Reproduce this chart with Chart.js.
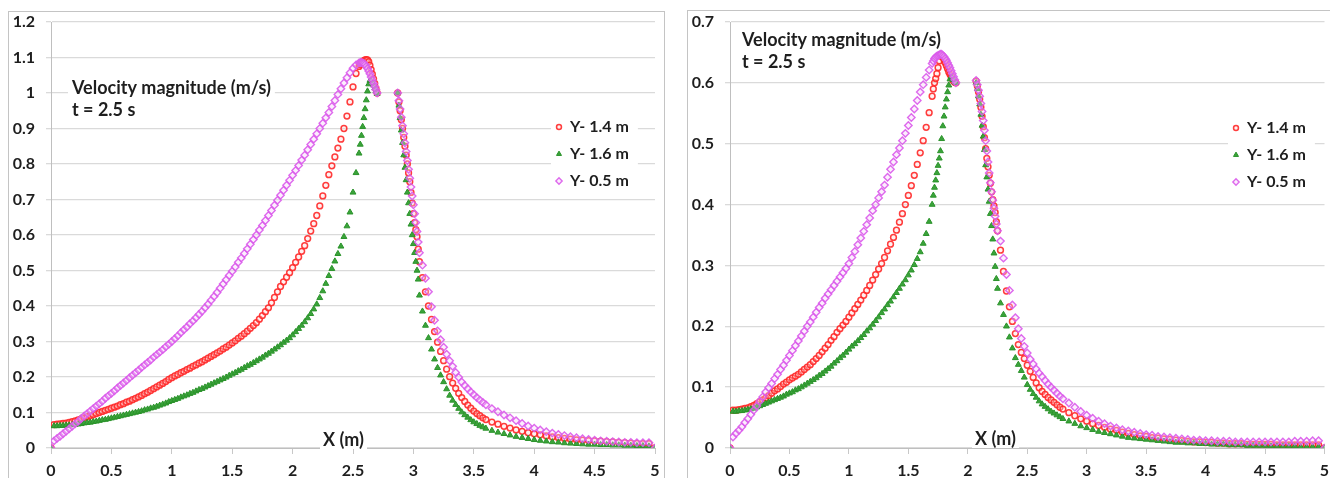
<!DOCTYPE html>
<html>
<head>
<meta charset="utf-8">
<script src="https://cdn.jsdelivr.net/npm/chart.js@4"></script>
<style>
  html, body { margin: 0; background: #fff; }
  body { width: 1330px; height: 478px; position: relative; overflow: hidden; }
  .frame { position: absolute; border: 1px solid #c4c4c4; }
  .plot { position: absolute; top: 0; width: 665px; height: 478px; }
</style>
</head>
<body>
<div class="frame" style="left:8px;top:11px;width:655px;height:480px"></div>
<div class="frame" style="left:687px;top:10px;width:660px;height:480px"></div>
<div class="plot" style="left:0"><canvas id="left"></canvas></div>
<div class="plot" style="left:665px"><canvas id="right"></canvas></div>
<script>
const seriesNames = ["Y- 1.4 m", "Y- 1.6 m", "Y- 0.5 m"];
const xTickLabels = ["0", "0.5", "1", "1.5", "2", "2.5", "3", "3.5", "4", "4.5", "5"];
const yTickLabelsLeft = ["0", "0.1", "0.2", "0.3", "0.4", "0.5", "0.6", "0.7", "0.8", "0.9", "1", "1.1", "1.2"];
const yTickLabelsRight = ["0", "0.1", "0.2", "0.3", "0.4", "0.5", "0.6", "0.7"];

// sample positions along the channel, X (m) - finer near the obstacle
const xLeft = [
  0,0.025,0.05,0.075,0.1,0.125,0.15,0.175,0.2,0.225,
  0.25,0.275,0.3,0.325,0.35,0.375,0.4,0.425,0.45,0.475,
  0.5,0.525,0.55,0.575,0.6,0.625,0.65,0.675,0.7,0.725,
  0.75,0.775,0.8,0.825,0.85,0.875,0.9,0.925,0.95,0.975,
  1,1.025,1.05,1.075,1.1,1.125,1.15,1.175,1.2,1.225,
  1.25,1.275,1.3,1.325,1.35,1.375,1.4,1.425,1.45,1.475,
  1.5,1.525,1.55,1.575,1.6,1.625,1.65,1.675,1.7,1.725,
  1.75,1.775,1.8,1.825,1.85,1.875,1.9,1.925,1.95,1.975,
  2,2.025,2.05,2.075,2.1,2.125,2.15,2.175,2.2,2.225,
  2.25,2.275,2.3,2.325,2.35,2.375,2.4,2.425,2.45,2.475,
  2.5,2.525,2.55,
  2.56,2.57,2.58,2.59,2.6,2.61,2.62,2.63,2.64,2.65,2.66,2.67,2.68,2.69,2.7,
  2.87,2.88,2.89,2.9,2.91,2.92,2.93,2.94,2.95,2.96,2.97,2.98,2.99,3,3.01,3.02,3.03,3.04,3.05,
  3.075,3.1,3.125,3.15,3.175,3.2,3.225,3.25,3.275,3.3,3.325,3.35,3.375,3.4,3.425,3.45,3.475,3.5,3.525,3.55,3.575,3.6,
  3.65,3.7,3.75,3.8,3.85,3.9,3.95,4,4.05,4.1,4.15,4.2,4.25,4.3,4.35,4.4,4.45,4.5,4.55,4.6,4.65,4.7,4.75,4.8,4.85,4.9,4.95,5
];

// velocity magnitude (m/s) on the left panel
const leftY14 = [
  0,0.066,0.067,0.068,0.069,0.070,0.072,0.074,0.076,0.079,
  0.082,0.085,0.088,0.091,0.094,0.097,0.100,0.103,0.106,0.109,
  0.112,0.115,0.118,0.122,0.125,0.129,0.132,0.136,0.140,0.144,
  0.148,0.153,0.157,0.162,0.167,0.172,0.177,0.182,0.187,0.193,
  0.198,0.203,0.207,0.212,0.216,0.221,0.225,0.230,0.234,0.239,
  0.243,0.248,0.253,0.258,0.263,0.268,0.273,0.279,0.284,0.290,
  0.296,0.302,0.309,0.315,0.322,0.329,0.337,0.345,0.353,0.363,
  0.373,0.384,0.395,0.409,0.424,0.440,0.455,0.468,0.481,0.494,
  0.508,0.523,0.538,0.554,0.570,0.590,0.611,0.632,0.655,0.682,
  0.710,0.740,0.770,0.795,0.820,0.845,0.870,0.900,0.935,0.975,
  1.017,1.055,1.075,
  1.080,1.085,1.088,1.091,1.093,1.094,1.093,1.088,1.078,1.066,1.053,1.040,1.027,1.013,1.000,
  1.000,0.975,0.950,0.925,0.900,0.875,0.850,0.825,0.800,0.775,0.750,0.720,0.690,0.660,0.635,0.615,0.595,0.560,0.525,
  0.480,0.440,0.400,0.362,0.328,0.298,0.272,0.246,0.222,0.201,0.183,0.168,0.154,0.142,0.131,0.121,0.112,0.104,0.097,0.091,0.085,0.080,
  0.073,0.067,0.061,0.056,0.051,0.047,0.043,0.040,0.037,0.034,0.031,0.029,0.027,0.025,0.023,0.022,0.021,0.020,0.019,0.018,0.017,0.016,0.015,0.014,0.013,0.012,0.012,0
];
const leftY16 = [
  0,0.062,0.062,0.063,0.063,0.064,0.064,0.065,0.066,0.067,
  0.068,0.070,0.071,0.072,0.074,0.075,0.077,0.079,0.080,0.082,
  0.084,0.086,0.088,0.090,0.092,0.094,0.096,0.098,0.100,0.102,
  0.104,0.107,0.109,0.112,0.114,0.117,0.120,0.123,0.126,0.130,
  0.133,0.136,0.139,0.143,0.146,0.149,0.153,0.156,0.160,0.164,
  0.167,0.171,0.175,0.179,0.183,0.187,0.191,0.195,0.199,0.204,
  0.208,0.212,0.217,0.221,0.226,0.231,0.235,0.240,0.245,0.250,
  0.255,0.261,0.266,0.272,0.278,0.284,0.290,0.297,0.303,0.310,
  0.318,0.327,0.336,0.345,0.355,0.366,0.378,0.391,0.405,0.423,
  0.442,0.463,0.485,0.505,0.526,0.547,0.568,0.595,0.625,0.664,
  0.720,0.775,0.830,
  0.855,0.880,0.905,0.930,0.955,0.980,1.005,1.025,1.035,1.035,1.030,1.022,1.014,1.006,0.998,
  1.000,0.965,0.930,0.895,0.860,0.825,0.790,0.755,0.720,0.690,0.660,0.630,0.600,0.575,0.550,0.525,0.500,0.475,0.430,
  0.385,0.345,0.310,0.278,0.250,0.226,0.205,0.186,0.166,0.148,0.134,0.122,0.111,0.101,0.093,0.086,0.079,0.073,0.068,0.063,0.059,0.055,
  0.049,0.044,0.040,0.036,0.032,0.029,0.026,0.023,0.021,0.019,0.017,0.016,0.014,0.013,0.012,0.011,0.010,0.010,0.009,0.009,0.008,0.008,0.007,0.007,0.006,0.006,0.005,0
];
const leftY05 = [
  0,0.020,0.027,0.033,0.040,0.047,0.054,0.061,0.068,0.075,
  0.083,0.090,0.097,0.104,0.111,0.118,0.125,0.132,0.140,0.147,
  0.154,0.161,0.169,0.176,0.183,0.190,0.198,0.205,0.212,0.219,
  0.227,0.234,0.241,0.248,0.256,0.263,0.270,0.277,0.285,0.292,
  0.300,0.308,0.316,0.325,0.333,0.341,0.350,0.358,0.367,0.376,
  0.385,0.395,0.405,0.416,0.427,0.438,0.450,0.462,0.474,0.486,
  0.498,0.510,0.523,0.535,0.548,0.561,0.574,0.587,0.600,0.614,
  0.627,0.641,0.655,0.669,0.684,0.698,0.712,0.726,0.740,0.754,
  0.768,0.782,0.796,0.811,0.825,0.840,0.855,0.870,0.885,0.900,
  0.915,0.930,0.945,0.962,0.979,0.996,1.012,1.028,1.043,1.057,
  1.070,1.079,1.085,
  1.086,1.086,1.085,1.083,1.080,1.075,1.069,1.062,1.054,1.045,1.036,1.027,1.018,1.009,1.000,
  1.000,0.978,0.955,0.932,0.908,0.885,0.860,0.835,0.810,0.785,0.760,0.735,0.710,0.685,0.660,0.635,0.610,0.580,0.550,
  0.515,0.478,0.440,0.398,0.360,0.330,0.305,0.284,0.264,0.246,0.230,0.213,0.199,0.186,0.176,0.167,0.158,0.150,0.142,0.135,0.128,0.122,
  0.111,0.102,0.093,0.085,0.077,0.069,0.062,0.056,0.051,0.046,0.042,0.038,0.035,0.032,0.029,0.026,0.024,0.022,0.020,0.019,0.018,0.017,0.016,0.016,0.015,0.015,0.015,0
];

const xRight = [
  0,0.025,0.05,0.075,0.1,0.125,0.15,0.175,0.2,0.225,
  0.25,0.275,0.3,0.325,0.35,0.375,0.4,0.425,0.45,0.475,
  0.5,0.525,0.55,0.575,0.6,0.625,0.65,0.675,0.7,0.725,
  0.75,0.775,0.8,0.825,0.85,0.875,0.9,0.925,0.95,0.975,
  1,1.025,1.05,1.075,1.1,1.125,1.15,1.175,1.2,1.225,
  1.25,1.275,1.3,1.325,1.35,1.375,1.4,1.425,1.45,1.475,
  1.5,1.525,1.55,1.575,1.6,1.625,1.65,1.675,1.7,
  1.71,1.72,1.73,1.74,1.75,1.76,1.77,1.78,1.79,1.8,1.81,1.82,1.83,1.84,1.85,1.86,1.87,1.88,1.89,1.9,
  2.07,2.08,2.09,2.1,2.11,2.12,2.13,2.14,2.15,2.16,2.17,2.18,2.19,2.2,2.21,2.22,2.23,2.24,2.25,
  2.275,2.3,2.325,2.35,2.375,2.4,2.425,2.45,2.475,2.5,2.525,2.55,2.575,2.6,2.625,2.65,2.675,2.7,2.725,2.75,2.775,2.8,
  2.85,2.9,2.95,3,3.05,3.1,3.15,3.2,3.25,3.3,3.35,3.4,3.45,3.5,3.55,3.6,3.65,3.7,3.75,3.8,3.85,3.9,
  3.95,4,4.05,4.1,4.15,4.2,4.25,4.3,4.35,4.4,4.45,4.5,4.55,4.6,4.65,4.7,4.75,4.8,4.85,4.9,4.95,5
];

// velocity magnitude (m/s) on the right panel
const rightY14 = [
  0,0.062,0.062,0.063,0.064,0.065,0.066,0.068,0.070,0.073,
  0.076,0.079,0.082,0.086,0.090,0.094,0.097,0.101,0.105,0.108,
  0.112,0.115,0.118,0.121,0.125,0.129,0.133,0.137,0.142,0.147,
  0.152,0.158,0.164,0.170,0.177,0.183,0.190,0.196,0.202,0.208,
  0.215,0.222,0.229,0.236,0.243,0.251,0.259,0.267,0.276,0.285,
  0.294,0.303,0.313,0.324,0.335,0.346,0.358,0.371,0.385,0.400,
  0.415,0.431,0.448,0.466,0.485,0.505,0.527,0.551,0.578,
  0.590,0.600,0.607,0.615,0.625,0.636,0.644,0.645,0.642,0.638,0.633,0.628,0.623,0.618,0.614,0.610,0.606,0.603,0.601,0.600,
  0.603,0.595,0.585,0.573,0.560,0.545,0.528,0.510,0.492,0.476,0.462,0.448,0.435,0.421,0.408,0.398,0.387,0.372,0.357,
  0.325,0.290,0.258,0.232,0.208,0.188,0.170,0.157,0.147,0.136,0.126,0.116,0.107,0.099,0.093,0.088,0.083,0.079,0.075,0.071,0.067,0.064,
  0.058,0.053,0.048,0.044,0.040,0.037,0.034,0.031,0.029,0.026,0.024,0.022,0.020,0.019,0.017,0.016,0.015,0.014,0.013,0.012,0.011,0.010,
  0.010,0.009,0.009,0.008,0.008,0.007,0.007,0.007,0.006,0.006,0.006,0.006,0.006,0.005,0.005,0.005,0.005,0.005,0.005,0.005,0.005,0
];
const rightY16 = [
  0,0.060,0.060,0.061,0.061,0.062,0.063,0.064,0.065,0.067,
  0.069,0.071,0.073,0.075,0.077,0.079,0.081,0.083,0.085,0.088,
  0.090,0.092,0.095,0.097,0.100,0.103,0.106,0.109,0.112,0.115,
  0.119,0.122,0.126,0.130,0.134,0.139,0.143,0.148,0.152,0.157,
  0.162,0.167,0.171,0.176,0.181,0.186,0.192,0.197,0.203,0.209,
  0.215,0.222,0.228,0.235,0.241,0.248,0.255,0.262,0.269,0.276,
  0.284,0.292,0.301,0.311,0.322,0.336,0.352,0.372,0.400,
  0.415,0.428,0.440,0.452,0.464,0.476,0.488,0.508,0.529,0.545,0.560,0.573,0.585,0.596,0.606,0.610,0.608,0.605,0.602,0.600,
  0.600,0.590,0.578,0.565,0.548,0.530,0.512,0.490,0.465,0.445,0.425,0.405,0.385,0.365,0.343,0.320,0.298,0.278,0.262,
  0.238,0.219,0.200,0.182,0.164,0.148,0.137,0.127,0.116,0.104,0.096,0.089,0.083,0.077,0.072,0.068,0.064,0.060,0.057,0.054,0.051,0.048,
  0.044,0.040,0.036,0.033,0.030,0.027,0.025,0.023,0.021,0.019,0.017,0.016,0.015,0.014,0.013,0.012,0.011,0.010,0.009,0.009,0.008,0.008,
  0.007,0.007,0.006,0.006,0.006,0.005,0.005,0.005,0.004,0.004,0.004,0.004,0.003,0.003,0.003,0.003,0.003,0.002,0.002,0.002,0.002,0
];
const rightY05 = [
  0,0.018,0.024,0.029,0.035,0.042,0.048,0.055,0.062,0.069,
  0.077,0.084,0.092,0.099,0.106,0.114,0.121,0.129,0.136,0.144,
  0.152,0.160,0.168,0.176,0.184,0.192,0.200,0.207,0.215,0.223,
  0.231,0.238,0.246,0.253,0.260,0.267,0.274,0.281,0.288,0.295,
  0.303,0.313,0.323,0.334,0.345,0.356,0.367,0.378,0.390,0.400,
  0.411,0.421,0.432,0.445,0.458,0.470,0.482,0.493,0.505,0.517,
  0.530,0.543,0.557,0.571,0.585,0.597,0.609,0.621,0.632,
  0.636,0.640,0.642,0.644,0.645,0.646,0.647,0.647,0.645,0.643,0.640,0.637,0.633,0.629,0.625,0.620,0.615,0.610,0.605,0.600,
  0.604,0.597,0.588,0.578,0.566,0.553,0.538,0.522,0.505,0.488,0.470,0.452,0.436,0.421,0.407,0.394,0.381,0.368,0.357,
  0.340,0.312,0.285,0.259,0.235,0.214,0.196,0.180,0.167,0.156,0.146,0.138,0.130,0.123,0.117,0.111,0.105,0.100,0.095,0.090,0.085,0.081,
  0.074,0.067,0.060,0.054,0.049,0.044,0.040,0.036,0.033,0.030,0.028,0.026,0.024,0.022,0.021,0.019,0.018,0.017,0.016,0.015,0.014,0.013,
  0.013,0.012,0.012,0.011,0.011,0.011,0.010,0.010,0.010,0.010,0.010,0.010,0.010,0.010,0.010,0.010,0.011,0.011,0.011,0.012,0.012,0
];

const FONT = "Lato, 'Open Sans', sans-serif";
const INK = "#1e1e1e";

const markers = [
  { pointStyle: "circle", pointRadius: 2.9, pointBorderWidth: 1.5,
    pointBorderColor: "rgba(255,40,40,0.9)", pointBackgroundColor: "rgba(255,215,215,0.35)", order: 2 },
  { pointStyle: "triangle", pointRadius: 3.4, pointBorderWidth: 1,
    pointBorderColor: "#2b932b", pointBackgroundColor: "#3aa33a", order: 1 },
  { pointStyle: "rectRot", pointRadius: 3.7, pointBorderWidth: 1.4,
    pointBorderColor: "rgba(218,90,235,0.9)", pointBackgroundColor: "rgba(245,205,250,0.35)", order: 0 }
];

function textBoxes(ctx, o) {
  ctx.font = "bold 18px " + FONT;
  const tw = Math.max(...o.title.map(t => ctx.measureText(t).width));
  const aw = ctx.measureText(o.axisLabel).width;
  ctx.font = "bold 16px " + FONT;
  const lw = Math.max(...seriesNames.map(t => ctx.measureText(t).width));
  return {
    title: [o.titleX - 4, o.titleY - 12, tw + 8, 22 * o.title.length + 2],
    axis: [o.axisX - 3, o.axisY - 9, aw + 6, 18],
    legend: [o.legendX - 8, o.legendY - 13, lw + 28, 80]
  };
}

// title block, axis caption and legend; their white backing sits under the marks
const notes = {
  id: "notes",
  beforeDatasetsDraw(chart, args, o) {
    const ctx = chart.ctx;
    ctx.save();
    const b = textBoxes(ctx, o);
    ctx.fillStyle = "#fff";
    ctx.fillRect(...b.title);
    ctx.fillRect(...b.legend);
    ctx.restore();
  },
  afterDraw(chart, args, o) {
    const ctx = chart.ctx;
    ctx.save();
    const b = textBoxes(ctx, o);
    ctx.fillStyle = "#fff";
    ctx.fillRect(...b.axis);
    ctx.textBaseline = "middle";
    ctx.textAlign = "left";
    ctx.fillStyle = INK;
    ctx.font = "bold 18px " + FONT;
    o.title.forEach((t, i) => ctx.fillText(t, o.titleX, o.titleY + i * 22));
    ctx.fillText(o.axisLabel, o.axisX, o.axisY);

    ctx.font = "bold 16px " + FONT;
    chart.data.datasets.forEach((ds, i) => {
      const y = o.legendY + i * 27;
      ctx.strokeStyle = ds.pointBorderColor;
      ctx.fillStyle = ds.pointBackgroundColor;
      ctx.lineWidth = ds.pointBorderWidth;
      Chart.helpers.drawPoint(ctx, { pointStyle: ds.pointStyle, radius: ds.pointRadius * 0.85,
        borderWidth: ds.pointBorderWidth, rotation: 0 }, o.legendX, y);
      ctx.fillStyle = INK;
      ctx.fillText(ds.label, o.legendX + 11, y);
    });
    ctx.restore();
  }
};

function drawPanel(id, xs, series, yTickLabels, box) {
  const yVals = yTickLabels.map(Number);
  const tickFont = { family: FONT, size: 16, weight: "bold" };
  new Chart(document.getElementById(id), {
    type: "scatter",
    data: {
      datasets: series.map((ys, i) => ({
        label: seriesNames[i],
        data: xs.map((x, j) => ({ x: x, y: ys[j] })),
        ...markers[i]
      }))
    },
    options: {
      animation: false,
      responsive: true,
      maintainAspectRatio: false,
      events: [],
      layout: { padding: { left: box.padLeft, right: box.padRight, top: 22, bottom: 0 } },
      plugins: { legend: { display: false }, tooltip: { enabled: false }, notes: box },
      scales: {
        x: {
          type: "linear", min: 0, max: 5,
          afterBuildTicks: s => { s.ticks = xTickLabels.map(v => ({ value: Number(v) })); },
          afterFit: s => { s.height = 30; s.paddingLeft = 0; s.paddingRight = 0; },
          ticks: { callback: (v, i) => xTickLabels[i], font: tickFont, color: INK, padding: 7,
                   maxRotation: 0, autoSkip: false },
          grid: { drawOnChartArea: false, tickLength: 6, color: "#c8c8c8" },
          border: { color: "#bfbfbf" }
        },
        y: {
          min: 0, max: yVals[yVals.length - 1],
          afterBuildTicks: s => { s.ticks = yVals.map(v => ({ value: v })); },
          afterFit: s => { s.width = box.axisWidth; },
          ticks: { callback: (v, i) => yTickLabels[i], font: tickFont, color: INK, padding: 11 },
          grid: { color: "#dadada", lineWidth: 1.3, tickLength: 5 },
          border: { color: "#bfbfbf" }
        }
      }
    },
    plugins: [notes]
  });
}

drawPanel("left", xLeft, [leftY14, leftY16, leftY05], yTickLabelsLeft, {
  padLeft: 10, padRight: 10, axisWidth: 41,
  title: ["Velocity magnitude (m/s)", "t = 2.5 s"], titleX: 72, titleY: 88,
  axisLabel: "X (m)", axisX: 323, axisY: 440,
  legendX: 559, legendY: 127
});

drawPanel("right", xRight, [rightY14, rightY16, rightY05], yTickLabelsRight, {
  padLeft: 10, padRight: 0, axisWidth: 55,
  title: ["Velocity magnitude (m/s)", "t = 2.5 s"], titleX: 77, titleY: 40,
  axisLabel: "X (m)", axisX: 310, axisY: 439,
  legendX: 571, legendY: 128
});
</script>
</body>
</html>
